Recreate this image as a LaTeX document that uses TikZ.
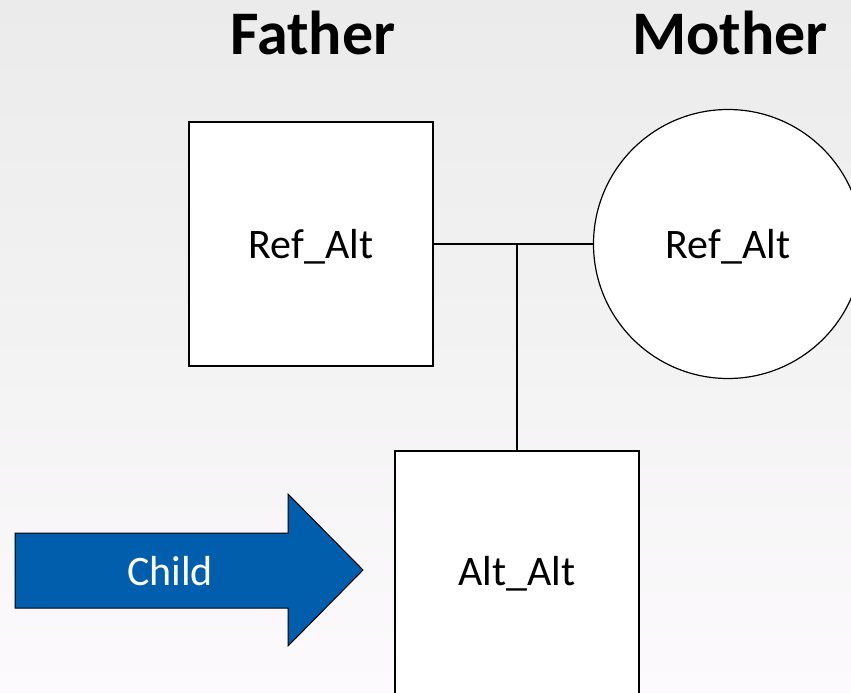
\documentclass[tikz,border=0pt]{standalone}
\usepackage{fontspec}
\setmainfont{Carlito}
\usetikzlibrary{positioning}
\definecolor{arrowblue}{RGB}{0,94,172}
\definecolor{bgtop}{RGB}{235,235,235}
\definecolor{bgbottom}{RGB}{252,250,252}

\begin{document}
\begin{tikzpicture}[x=1pt, y=-1pt,
    box/.style={draw, fill=white, line width=1.2pt, minimum width=244pt, minimum height=244pt, inner sep=0pt, text depth=0pt, font=\fontsize{42}{50}\selectfont},
    title/.style={anchor=base, font=\fontsize{62}{74}\selectfont\bfseries}]
    % 背景
    \useasboundingbox (0,0) rectangle (851,693);
    \clip (0,0) rectangle (851,693);
    \shade[top color=bgtop, bottom color=bgbottom] (0,0) rectangle (851,693);

    % 标题
    \node[title] (fatherlbl) at (313,55) {Father};
    \node[title] (motherlbl) at (730,55) {Mother};

    % 父母和孩子
    \node[box, rectangle] (father) at (311,244) {Ref\_Alt};
    \node[box, circle, minimum size=269pt] (mother) at (728,244) {Ref\_Alt};
    \node[box, rectangle, minimum height=248pt, text depth=8pt] (child) at (517,575) {Alt\_Alt};

    % 连线
    \draw[line width=1.2pt] (father.east) -- (mother.west);
    \coordinate (join) at (child.north |- father.east);
    \draw[line width=2.4pt] (join) -- (child.north);

    % 箭头
    \filldraw[fill=arrowblue, draw=black, line width=1pt] (15,533) -- (288,533) -- (288,494) -- (363,570) -- (288,646) -- (288,608) -- (15,608) -- cycle;
    \node[anchor=base, text=white, font=\fontsize{42}{50}\selectfont] (childlbl) at (170,585) {Child};
\end{tikzpicture}
\end{document}
